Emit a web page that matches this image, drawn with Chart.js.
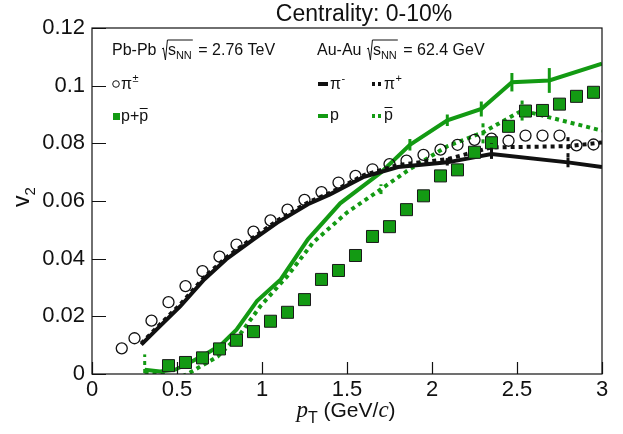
<!DOCTYPE html>
<html>
<head>
<meta charset="utf-8">
<script src="https://cdn.jsdelivr.net/npm/chart.js@4.4.1/dist/chart.umd.min.js"></script>
<style>
  html, body { margin: 0; padding: 0; background: #fff; }
  #v2chart { display: block; }
</style>
</head>
<body>
<canvas id="v2chart" width="623" height="434"></canvas>
<script>
// Pb-Pb 2.76 TeV, identified hadron v2
const pbPtPi = [0.175, 0.25, 0.35, 0.45, 0.55, 0.65, 0.75, 0.85, 0.95, 1.05, 1.15, 1.25, 1.35, 1.45, 1.55,
                1.65, 1.75, 1.85, 1.95, 2.05, 2.15, 2.25, 2.35, 2.45, 2.55, 2.65, 2.75, 2.85, 2.95];
const pbV2Pi = [0.0089, 0.0124, 0.0185, 0.0249, 0.0305, 0.0357, 0.0407, 0.0449, 0.0494, 0.0533, 0.0570, 0.0604, 0.0631, 0.0664, 0.0687,
                0.0710, 0.0728, 0.0740, 0.0760, 0.0778, 0.0795, 0.0812, 0.0816, 0.0809, 0.0827, 0.0827, 0.0827, 0.0793, 0.0796];
const pbPtP = [0.45, 0.55, 0.65, 0.75, 0.85, 0.95, 1.05, 1.15, 1.25, 1.35, 1.45, 1.55, 1.65,
               1.75, 1.85, 1.95, 2.05, 2.15, 2.25, 2.35, 2.45, 2.55, 2.65, 2.75, 2.85, 2.95];
const pbV2P = [0.0029, 0.0040, 0.0056, 0.0087, 0.0117, 0.0147, 0.0183, 0.0214, 0.0258, 0.0328, 0.0359, 0.0411, 0.0477,
               0.0511, 0.0570, 0.0618, 0.0687, 0.0708, 0.0769, 0.0802, 0.0859, 0.0912, 0.0914, 0.0936, 0.0963, 0.0977];

// Au-Au 62.4 GeV
const auPtPi = [0.29, 0.40, 0.52, 0.66, 0.79, 0.95, 1.09, 1.27, 1.40, 1.60, 1.80, 2.09, 2.35, 2.80, 3.00];
const auV2PiMinus = [0.0102, 0.0166, 0.0235, 0.0328, 0.0398, 0.0467, 0.0525, 0.0589, 0.0623, 0.0684, 0.0718, 0.0734, 0.0763, 0.0734, 0.0718];
const auErrPiMinus = [0, 0, 0, 0, 0, 0, 0, 0, 0, 0, 0, 0.0011, 0.0017, 0.0017, 0];
const auV2PiPlus = [0.0106, 0.0172, 0.0242, 0.0336, 0.0404, 0.0474, 0.0532, 0.0595, 0.0628, 0.0690, 0.0725, 0.0745, 0.0786, 0.0790, 0.0803];
const auErrPiPlus = [0, 0, 0, 0, 0, 0, 0, 0, 0, 0, 0, 0.0010, 0.0015, 0.0038, 0];

const auPtP = [0.31, 0.40, 0.49, 0.59, 0.68, 0.76, 0.85, 0.97, 1.11, 1.27, 1.46, 1.70, 1.87, 2.09, 2.29, 2.47, 2.69, 3.00];
const auV2P = [0.0015, 0.0009, 0.0015, 0.0044, 0.0073, 0.0102, 0.0154, 0.0253, 0.0328, 0.0467, 0.0592, 0.0699, 0.0795, 0.0880, 0.0919, 0.1012, 0.1018, 0.1076];
const auErrP = [0, 0, 0, 0, 0, 0, 0, 0, 0, 0, 0, 0, 0.0020, 0.0020, 0.0026, 0.0032, 0.0043, 0];

const auPtPbar = [0.31, 0.40, 0.49, 0.57, 0.64, 0.74, 0.81, 0.87, 0.99, 1.15, 1.30, 1.50, 1.70, 1.87, 2.09, 2.30, 2.53, 3.00];
const auV2Pbar = [0.0008, 0.0002, -0.0020, 0.0003, 0.0027, 0.0061, 0.0102, 0.0137, 0.0235, 0.0340, 0.0456, 0.0560, 0.0641, 0.0711, 0.0790, 0.0838, 0.0914, 0.0844];
const auErrPbar = [0.0060, 0, 0, 0, 0, 0, 0, 0, 0, 0, 0, 0, 0.0017, 0, 0, 0.0038, 0.0035, 0];

const xTicks = [0, 0.5, 1, 1.5, 2, 2.5, 3];
const yTicks = [0, 0.02, 0.04, 0.06, 0.08, 0.1, 0.12];

const GREEN = '#139a13';
const SANS = '"Liberation Sans", Arial, sans-serif';
const SERIF = '"Liberation Serif", "Times New Roman", serif';

function pts(xs, ys) {
  return xs.map((x, i) => ({ x: x, y: ys[i] }));
}

// vertical error bars for the Au-Au curves, same stroke as the curve
const errorBars = {
  id: 'errorBars',
  afterDatasetsDraw(chart) {
    const ctx = chart.ctx;
    const xs = chart.scales.x, ys = chart.scales.y;
    const area = chart.chartArea;
    ctx.save();
    ctx.beginPath();
    ctx.rect(area.left, area.top, area.right - area.left, area.bottom - area.top);
    ctx.clip();
    chart.data.datasets.forEach(ds => {
      if (!ds.errors) return;
      ctx.strokeStyle = ds.borderColor;
      ctx.lineWidth = 3;
      ctx.setLineDash(ds.borderDash || []);
      ds.data.forEach((p, i) => {
        const e = ds.errors[i];
        if (!e) return;
        const px = xs.getPixelForValue(p.x);
        ctx.beginPath();
        ctx.moveTo(px, ys.getPixelForValue(p.y - e));
        ctx.lineTo(px, ys.getPixelForValue(p.y + e));
        ctx.stroke();
      });
    });
    ctx.restore();
  }
};

// frame, inward ticks, titles and the two-column legend
function drawSqrtLabel(ctx, x, y, head, tail) {
  ctx.font = '16px ' + SANS;
  ctx.fillText(head, x, y);
  x += ctx.measureText(head).width + 1;
  const top = y - 15;
  ctx.lineWidth = 1;
  ctx.beginPath();
  ctx.moveTo(x, y - 6);
  ctx.lineTo(x + 1.5, y - 7);
  ctx.lineTo(x + 3.5, y + 5);
  ctx.lineTo(x + 5.5, top);
  x += 6;
  const sW = ctx.measureText('s').width;
  ctx.fillText('s', x, y);
  ctx.font = '11px ' + SANS;
  const nnW = ctx.measureText('NN').width;
  ctx.fillText('NN', x + sW, y + 4);
  ctx.lineTo(x + sW + nnW + 1, top);
  ctx.stroke();
  ctx.font = '16px ' + SANS;
  ctx.fillText(tail, x + sW + nnW + 2, y);
}

function drawSup(ctx, x, y, base, sup) {
  ctx.font = '16px ' + SANS;
  ctx.fillText(base, x, y);
  const w = ctx.measureText(base).width;
  ctx.font = '11px ' + SANS;
  ctx.fillText(sup, x + w + 0.5, y - 7);
}

function drawPbar(ctx, x, y) {
  ctx.font = '16px ' + SANS;
  ctx.fillText('p', x, y);
  const w = ctx.measureText('p').width;
  ctx.lineWidth = 1;
  ctx.beginPath();
  ctx.moveTo(x + 0.5, y - 12.5);
  ctx.lineTo(x + w - 0.5, y - 12.5);
  ctx.stroke();
  return w;
}

const decorations = {
  id: 'decorations',
  afterDraw(chart) {
    const ctx = chart.ctx;
    const a = chart.chartArea;
    const xs = chart.scales.x, ys = chart.scales.y;
    ctx.save();
    ctx.strokeStyle = '#111';
    ctx.fillStyle = '#111';
    ctx.lineWidth = 1.2;
    ctx.setLineDash([]);
    ctx.strokeRect(a.left, a.top, a.right - a.left, a.bottom - a.top);

    ctx.beginPath();
    xTicks.forEach(v => {
      const px = Math.round(xs.getPixelForValue(v)) + 0.5;
      ctx.moveTo(px, a.bottom);
      ctx.lineTo(px, a.bottom - 12);
    });
    yTicks.forEach(v => {
      const py = Math.round(ys.getPixelForValue(v)) + 0.5;
      ctx.moveTo(a.left, py);
      ctx.lineTo(a.left + 14, py);
    });
    ctx.stroke();

    // title
    ctx.textAlign = 'center';
    ctx.textBaseline = 'alphabetic';
    ctx.font = '23px ' + SANS;
    ctx.fillText('Centrality: 0-10%', 364, 21);

    // x axis title: p_T (GeV/c)
    ctx.textAlign = 'left';
    const parts = [
      { t: 'p', f: 'italic 23px ' + SERIF, dy: 0 },
      { t: 'T', f: '16px ' + SANS, dy: 6 },
      { t: ' (GeV/', f: '21px ' + SANS, dy: 0 },
      { t: 'c', f: 'italic 23px ' + SERIF, dy: 0 },
      { t: ')', f: '21px ' + SANS, dy: 0 }
    ];
    let total = 0;
    parts.forEach(p => { ctx.font = p.f; total += ctx.measureText(p.t).width; });
    let cx = 346 - total / 2;
    parts.forEach(p => {
      ctx.font = p.f;
      ctx.fillText(p.t, cx, 417 + p.dy);
      cx += ctx.measureText(p.t).width;
    });

    // y axis title: v_2
    ctx.save();
    ctx.translate(29, 207);
    ctx.rotate(-Math.PI / 2);
    ctx.font = '23px ' + SANS;
    ctx.fillText('v', 0, 0);
    const vw = ctx.measureText('v').width;
    ctx.font = '15px ' + SANS;
    ctx.fillText('2', vw, 6);
    ctx.restore();

    // legend, left column
    drawSqrtLabel(ctx, 112, 55, 'Pb-Pb ', ' = 2.76 TeV');
    ctx.lineWidth = 1;
    ctx.beginPath();
    ctx.arc(116, 84, 3.3, 0, Math.PI * 2);
    ctx.stroke();
    drawSup(ctx, 121, 89, '\u03c0', '\u00b1');
    ctx.fillStyle = GREEN;
    ctx.fillRect(113, 113, 7, 7);
    ctx.fillStyle = '#111';
    ctx.font = '16px ' + SANS;
    ctx.fillText('p+', 121, 121);
    drawPbar(ctx, 121 + ctx.measureText('p+').width, 121);

    // legend, right column
    drawSqrtLabel(ctx, 317, 55, 'Au-Au ', ' = 62.4 GeV');
    ctx.lineWidth = 4;
    ctx.strokeStyle = '#111';
    ctx.beginPath();
    ctx.moveTo(318, 84); ctx.lineTo(328, 84);
    ctx.stroke();
    ctx.setLineDash([3, 3]);
    ctx.beginPath();
    ctx.moveTo(372, 84); ctx.lineTo(382, 84);
    ctx.stroke();
    ctx.strokeStyle = GREEN;
    ctx.beginPath();
    ctx.moveTo(372, 116); ctx.lineTo(382, 116);
    ctx.stroke();
    ctx.setLineDash([]);
    ctx.beginPath();
    ctx.moveTo(318, 116); ctx.lineTo(328, 116);
    ctx.stroke();
    ctx.strokeStyle = '#111';
    drawSup(ctx, 330, 89, '\u03c0', '-');
    drawSup(ctx, 384, 89, '\u03c0', '+');
    ctx.font = '16px ' + SANS;
    ctx.fillText('p', 330, 120);
    drawPbar(ctx, 384, 120);
    ctx.restore();
  }
};

const datasets = [
  {
    label: 'Pb-Pb p+pbar',
    data: pts(pbPtP, pbV2P),
    showLine: false,
    pointStyle: 'rect',
    pointRadius: 8.5,
    pointBackgroundColor: GREEN,
    pointBorderColor: '#1a1a1a',
    pointBorderWidth: 1,
    order: 0
  },
  {
    label: 'Pb-Pb pi',
    data: pts(pbPtPi, pbV2Pi),
    showLine: false,
    pointStyle: 'circle',
    pointRadius: 5.5,
    pointBackgroundColor: 'rgba(0,0,0,0)',
    pointBorderColor: '#111',
    pointBorderWidth: 1.3,
    order: 1
  },
  {
    label: 'Au-Au pi-',
    data: pts(auPtPi, auV2PiMinus),
    errors: auErrPiMinus,
    borderColor: '#111',
    borderWidth: 4,
    pointRadius: 0,
    order: 3
  },
  {
    label: 'Au-Au pi+',
    data: pts(auPtPi, auV2PiPlus),
    errors: auErrPiPlus,
    borderColor: '#111',
    borderWidth: 4,
    borderDash: [4, 4],
    pointRadius: 0,
    order: 2
  },
  {
    label: 'Au-Au p',
    data: pts(auPtP, auV2P),
    errors: auErrP,
    borderColor: GREEN,
    borderWidth: 4,
    pointRadius: 0,
    order: 4
  },
  {
    label: 'Au-Au pbar',
    data: pts(auPtPbar, auV2Pbar),
    errors: auErrPbar,
    borderColor: GREEN,
    borderWidth: 4,
    borderDash: [4, 4],
    pointRadius: 0,
    order: 5
  }
];

const ctx = document.getElementById('v2chart').getContext('2d');
new Chart(ctx, {
  type: 'line',
  data: { datasets: datasets },
  options: {
    responsive: false,
    animation: false,
    devicePixelRatio: 1,
    layout: { padding: { top: 28, right: 21, left: 0, bottom: 0 } },
    plugins: {
      legend: { display: false },
      tooltip: { enabled: false }
    },
    elements: { line: { tension: 0, borderCapStyle: 'butt' } },
    scales: {
      x: {
        type: 'linear',
        min: 0,
        max: 3,
        afterFit(s) { s.height = 60; },
        afterBuildTicks(s) { s.ticks = xTicks.map(v => ({ value: v })); },
        grid: { display: false, drawTicks: false },
        border: { display: false },
        ticks: {
          padding: 3,
          color: '#111',
          font: { family: SANS, size: 22 },
          callback: v => String(v)
        }
      },
      y: {
        type: 'linear',
        min: 0,
        max: 0.12,
        afterFit(s) { s.width = 92; },
        afterBuildTicks(s) { s.ticks = yTicks.map(v => ({ value: v })); },
        grid: { display: false, drawTicks: false },
        border: { display: false },
        ticks: {
          padding: 7,
          color: '#111',
          font: { family: SANS, size: 22 },
          callback: v => String(+v.toFixed(2))
        }
      }
    }
  },
  plugins: [errorBars, decorations]
});
</script>
</body>
</html>
